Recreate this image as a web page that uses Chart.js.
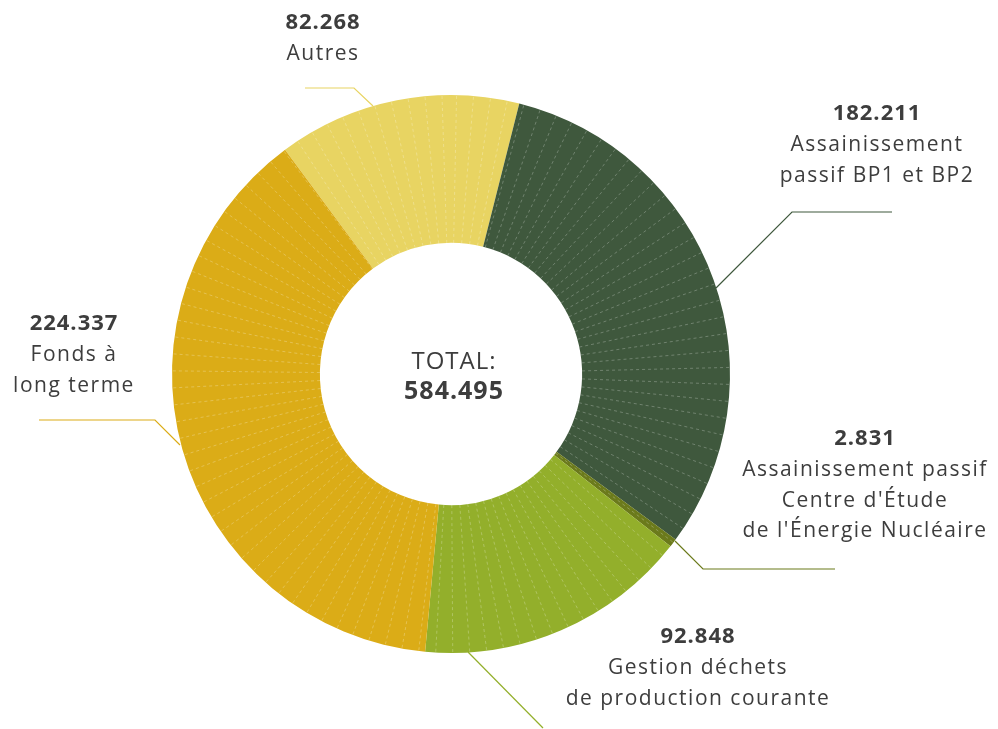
<!DOCTYPE html>
<html>
<head>
<meta charset="utf-8">
<script src="https://cdn.jsdelivr.net/npm/chart.js@4/dist/chart.umd.min.js"></script>
<style>
    body { margin: 0; background: #fff; }
    #wrap { width: 998px; height: 729px; }
</style>
</head>
<body>
<div id="wrap"><canvas id="provisionsChart" width="998" height="729"></canvas></div>
<script>
// data, in thousands
const categories = ['Autres', 'Assainissement passif BP1 et BP2', "Assainissement passif Centre d'Étude de l'Énergie Nucléaire", 'Gestion déchets de production courante', 'Fonds à long terme'];
const values = [82.268, 182.211, 2.831, 92.848, 224.337];
const valueLabels = ['82.268', '182.211', '2.831', '92.848', '224.337'];
const labelLines = [
    ['Autres'],
    ['Assainissement', 'passif BP1 et BP2'],
    ['Assainissement passif', "Centre d'Étude", "de l'Énergie Nucléaire"],
    ['Gestion déchets', 'de production courante'],
    ['Fonds à', 'long terme'],
];
const totalLabel = '584.495';
const colors = ['#E8D462', '#3F583D', '#6B7A1B', '#93AF2B', '#DBAC17'];

// label placement (layout only)
const labelPos = [
    { x: 323, y: 22 },
    { x: 877, y: 113 },
    { x: 865, y: 438 },
    { x: 698, y: 636 },
    { x: 74, y: 323 },
];
const leaders = [
    [[305, 88], [354, 88], [373, 106]],
    [[892, 212], [792, 212], [716, 288]],
    [[835, 569], [703, 569], [675, 541]],
    [[543, 728], [468, 652]],
    [[39, 420], [155, 420], [180, 445]],
];

const textColor = '#3d3d3d';
const fontFamily = '"Open Sans", "Noto Sans", sans-serif';

const stripesPlugin = {
    id: 'stripes',
    afterDatasetsDraw(chart) {
        const arc = chart.getDatasetMeta(0).data[0];
        const { x, y, innerRadius, outerRadius } = arc;
        const ctx = chart.ctx;
        ctx.save();
        ctx.strokeStyle = 'rgba(255,255,255,0.25)';
        ctx.lineWidth = 1;
        ctx.setLineDash([3, 3]);
        const step = 3.5 * Math.PI / 180;
        for (let a = 0; a < Math.PI * 2; a += step) {
            const ang = a - Math.PI / 2 + 0.02;
            ctx.beginPath();
            ctx.moveTo(x + Math.cos(ang) * innerRadius, y + Math.sin(ang) * innerRadius);
            ctx.lineTo(x + Math.cos(ang) * outerRadius, y + Math.sin(ang) * outerRadius);
            ctx.stroke();
        }
        ctx.restore();
    }
};

const labelsPlugin = {
    id: 'sliceLabels',
    afterDraw(chart) {
        const ctx = chart.ctx;
        const arc = chart.getDatasetMeta(0).data[0];
        ctx.save();
        ctx.textAlign = 'center';
        ctx.textBaseline = 'middle';
        ctx.fillStyle = textColor;

        // leader lines
        leaders.forEach((pts, i) => {
            ctx.strokeStyle = colors[i];
            ctx.lineWidth = 1.2;
            ctx.beginPath();
            pts.forEach((p, j) => j ? ctx.lineTo(p[0], p[1]) : ctx.moveTo(p[0], p[1]));
            ctx.stroke();
        });

        // value + description
        valueLabels.forEach((v, i) => {
            const p = labelPos[i];
            ctx.letterSpacing = '1px';
            ctx.font = 'bold 22px ' + fontFamily;
            ctx.fillText(v, p.x, p.y + 1);
            ctx.letterSpacing = '1.5px';
            ctx.font = '21px ' + fontFamily;
            labelLines[i].forEach((line, j) => {
                ctx.fillText(line, p.x, p.y + 2 + 30.5 * (j + 1));
            });
        });

        // centre total
        ctx.letterSpacing = '1px';
        ctx.font = '24px ' + fontFamily;
        ctx.fillText('TOTAL:', arc.x + 3, arc.y - 12);
        ctx.font = 'bold 25px ' + fontFamily;
        ctx.fillText(totalLabel, arc.x + 3, arc.y + 18);
        ctx.restore();
    }
};

const renderChart = () => {
    const ctx = document.getElementById('provisionsChart').getContext('2d');
    new Chart(ctx, {
        type: 'doughnut',
        data: {
            labels: categories,
            datasets: [{
                data: values,
                backgroundColor: colors,
                borderWidth: 0,
            }],
        },
        options: {
            responsive: false,
            animation: false,
            rotation: -36.5,
            cutout: '47%',
            layout: { padding: { left: 172, right: 268, top: 95, bottom: 76 } },
            plugins: {
                legend: { display: false },
                tooltip: { enabled: false },
            },
        },
        plugins: [stripesPlugin, labelsPlugin],
    });
};

window.addEventListener('load', renderChart);
</script>
</body>
</html>
